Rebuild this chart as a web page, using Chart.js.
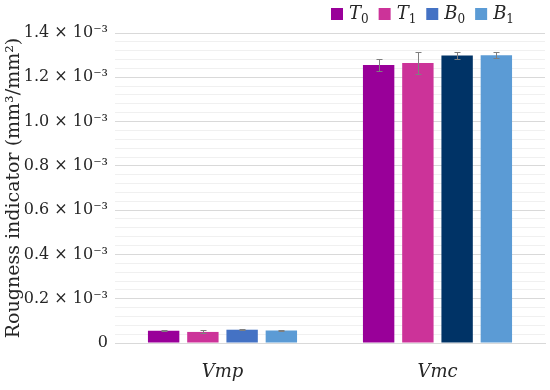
<!DOCTYPE html>
<html>
<head>
<meta charset="utf-8">
<script src="https://cdn.jsdelivr.net/npm/chart.js@4.4.1/dist/chart.umd.min.js"></script>
<style>
html,body{margin:0;padding:0;background:#fff;}
#wrap{width:550px;height:390px;}
</style>
</head>
<body>
<div id="wrap"><canvas id="c" width="550" height="390"></canvas></div>
<script>
// values in units of 10^-3 mm^3/mm^2
const categories = ['Vmp', 'Vmc'];
const seriesNames = ['T₀', 'T₁', 'B₀', 'B₁'];
const T0 = [0.055, 1.256];
const T1 = [0.050, 1.265];
const B0 = [0.060, 1.298];
const B1 = [0.057, 1.300];
const T0err = [0.003, 0.026];
const T1err = [0.007, 0.051];
const B0err = [0.003, 0.015];
const B1err = [0.003, 0.014];
const yMax = 1.4;
const majorStep = 0.2;
const minorStep = 0.04;

const seriesValues = [T0, T1, B0, B1];
const seriesErrors = [T0err, T1err, B0err, B1err];
const barColors = [
  ['#990099', '#990099'],
  ['#cc3399', '#cc3399'],
  ['#4472c4', '#003366'],
  ['#5b9bd5', '#5b9bd5']
];
const legendColors = ['#990099', '#cc3399', '#4472c4', '#5b9bd5'];

const FONT = "'DejaVu Serif', 'Liberation Serif', serif";
const TEXT = '#262626';

const errorBars = {
  id: 'errorBars',
  afterDatasetsDraw(chart) {
    const ctx = chart.ctx;
    const y = chart.scales.y;
    ctx.save();
    ctx.strokeStyle = '#7f7f7f';
    ctx.lineWidth = 1;
    chart.data.datasets.forEach((ds, i) => {
      const meta = chart.getDatasetMeta(i);
      meta.data.forEach((el, j) => {
        const v = ds.data[j], e = ds.errors[j];
        const x = Math.round(el.x) + 0.5;
        const yt = Math.round(y.getPixelForValue(v + e)) + 0.5;
        const yb = Math.round(y.getPixelForValue(v - e)) + 0.5;
        ctx.beginPath();
        ctx.moveTo(x, yt); ctx.lineTo(x, yb);
        ctx.moveTo(x - 3, yt); ctx.lineTo(x + 3, yt);
        ctx.moveTo(x - 3, yb); ctx.lineTo(x + 3, yb);
        ctx.stroke();
      });
    });
    ctx.restore();
  }
};

// legend with italic letter + upright lowered subscript digit
const subMap = { '₀': '0', '₁': '1', '₂': '2', '₃': '3' };
const customLegend = {
  id: 'customLegend',
  afterDraw(chart) {
    const ctx = chart.ctx;
    const mainFont = "italic 18px " + FONT;
    const subFont = "12px " + FONT;
    const box = 12, gapBoxText = 6, gapItems = 10;
    const items = chart.data.datasets.map((ds, i) => {
      const main = ds.label.replace(/[₀-₉]/g, '');
      const sub = ds.label.split('').filter(c => subMap[c]).map(c => subMap[c]).join('');
      ctx.font = mainFont; const wm = ctx.measureText(main).width;
      ctx.font = subFont; const ws = ctx.measureText(sub).width;
      return { main, sub, wm, ws, color: legendColors[i] };
    });
    const total = items.reduce((s, it) => s + box + gapBoxText + it.wm + it.ws, 0) + gapItems * (items.length - 1);
    let x = 514 - total;
    const cy = 14;
    ctx.save();
    ctx.textBaseline = 'middle';
    ctx.textAlign = 'left';
    items.forEach(it => {
      ctx.fillStyle = it.color;
      ctx.fillRect(x, cy - box / 2, box, box);
      x += box + gapBoxText;
      ctx.fillStyle = TEXT;
      ctx.font = mainFont;
      ctx.fillText(it.main, x, cy);
      x += it.wm;
      ctx.font = subFont;
      ctx.fillText(it.sub, x, cy + 6);
      x += it.ws + gapItems;
    });
    ctx.restore();
  }
};

const isMajor = v => Math.abs(v / majorStep - Math.round(v / majorStep)) < 1e-6;

new Chart(document.getElementById('c'), {
  type: 'bar',
  data: {
    labels: categories,
    datasets: seriesNames.map((n, i) => ({
      label: n,
      data: seriesValues[i],
      errors: seriesErrors[i],
      backgroundColor: barColors[i],
      borderWidth: 0
    }))
  },
  options: {
    responsive: false,
    animation: false,
    devicePixelRatio: 1,
    layout: { padding: { left: 0, right: 5, top: 33, bottom: 0 } },
    datasets: { bar: { categoryPercentage: 0.73, barPercentage: 0.8 } },
    plugins: {
      legend: { display: false },
      tooltip: { enabled: false }
    },
    scales: {
      x: {
        afterFit: s => { s.height = 47; },
        grid: { display: false, drawTicks: false },
        border: { display: true, color: '#d9d9d9' },
        ticks: { color: TEXT, font: { family: FONT, size: 18, style: 'italic' }, padding: 19 }
      },
      y: {
        min: 0,
        max: yMax,
        afterFit: s => { s.width = 115; },
        border: { display: false },
        grid: {
          drawTicks: false,
          color: ctx => isMajor(ctx.tick.value) ? '#d9d9d9' : '#f0f0f0'
        },
        ticks: {
          stepSize: minorStep,
          autoSkip: false,
          padding: 7,
          color: TEXT,
          font: { family: FONT, size: 16 },
          callback: v => {
            if (!isMajor(v)) return '';
            if (Math.abs(v) < 1e-9) return '0';
            return v.toFixed(1) + ' × 10⁻³';
          }
        },
        title: {
          display: true,
          text: 'Rougness indicator (mm³/mm²)',
          color: TEXT,
          font: { family: FONT, size: 19 },
          padding: { top: 3, bottom: 0 }
        }
      }
    }
  },
  plugins: [errorBars, customLegend]
});
</script>
</body>
</html>
